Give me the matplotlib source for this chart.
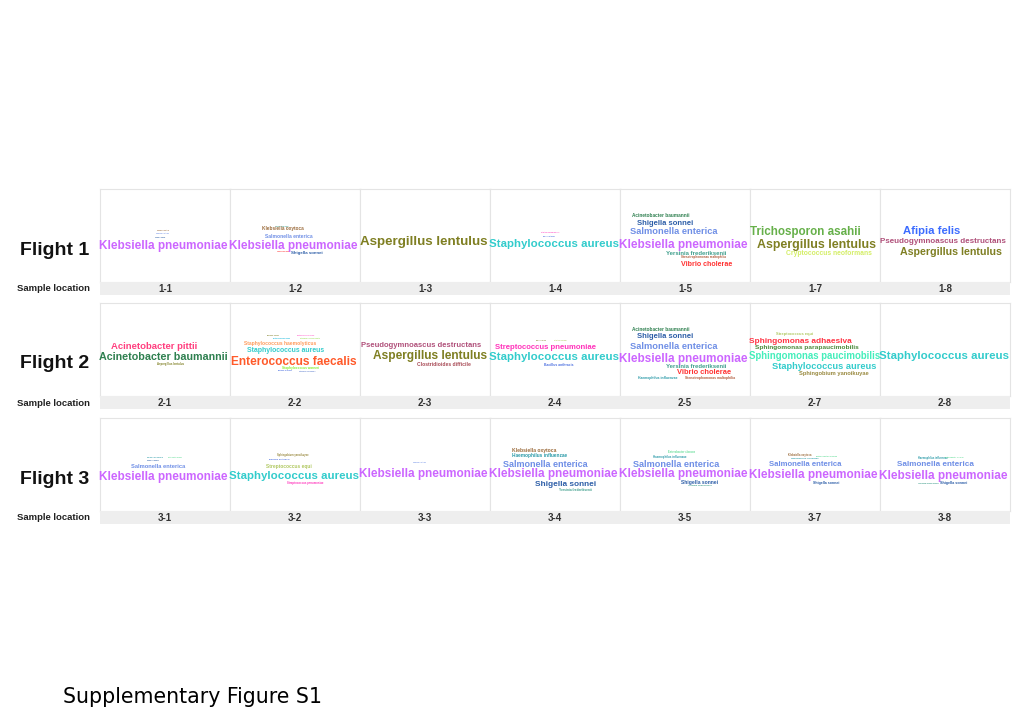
import matplotlib.pyplot as plt

plt.rcParams['font.family'] = ['Liberation Sans', 'DejaVu Sans']

flights = ["Flight 1", "Flight 2", "Flight 3"]
locations = ["1", "2", "3", "4", "5", "7", "8"]

# word clouds: (species, relative abundance -> word size)
f1_1 = [("Klebsiella pneumoniae", 1.0), ("Salmonella enterica", 0.10),
        ("Klebsiella oxytoca", 0.08), ("Shigella sonnei", 0.09)]
f1_2 = [("Klebsiella pneumoniae", 1.0), ("Klebsiella oxytoca", 0.40),
        ("Salmonella enterica", 0.42), ("Shigella sonnei", 0.37),
        ("Vibrio cholerae", 0.14), ("Yersinia frederiksenii", 0.12)]
f1_3 = [("Aspergillus lentulus", 1.13)]
f1_4 = [("Staphylococcus aureus", 0.97), ("Streptococcus pneumoniae", 0.08),
        ("Bacillus anthracis", 0.07)]
f1_5 = [("Acinetobacter baumannii", 0.40), ("Shigella sonnei", 0.65),
        ("Salmonella enterica", 0.79), ("Klebsiella pneumoniae", 1.0),
        ("Yersinia frederiksenii", 0.51), ("Stenotrophomonas maltophilia", 0.25),
        ("Vibrio cholerae", 0.61)]
f1_7 = [("Trichosporon asahii", 0.98), ("Aspergillus lentulus", 1.05),
        ("Cryptococcus neoformans", 0.57)]
f1_8 = [("Afipia felis", 0.95), ("Pseudogymnoascus destructans", 0.68),
        ("Aspergillus lentulus", 0.90)]

f2_1 = [("Acinetobacter pittii", 0.80), ("Acinetobacter baumannii", 0.91),
        ("Aspergillus lentulus", 0.23)]
f2_2 = [("Bacillus cereus", 0.14), ("Enterococcus faecium", 0.14),
        ("Enterococcus hirae", 0.16), ("Staphylococcus capitis", 0.15),
        ("Staphylococcus haemolyticus", 0.43), ("Staphylococcus aureus", 0.58),
        ("Enterococcus faecalis", 1.01), ("Staphylococcus warneri", 0.28),
        ("Bacillus anthracis", 0.14), ("Staphylococcus hominis", 0.12)]
f2_3 = [("Pseudogymnoascus destructans", 0.65), ("Aspergillus lentulus", 1.01),
        ("Clostridioides difficile", 0.42)]
f2_4 = [("Bacillus cereus", 0.10), ("Streptococcus equi", 0.09),
        ("Streptococcus pneumoniae", 0.66), ("Staphylococcus aureus", 0.97),
        ("Bacillus anthracis", 0.29)]
f2_5 = [("Acinetobacter baumannii", 0.40), ("Shigella sonnei", 0.65),
        ("Salmonella enterica", 0.79), ("Klebsiella pneumoniae", 1.0),
        ("Yersinia frederiksenii", 0.51), ("Vibrio cholerae", 0.64),
        ("Haemophilus influenzae", 0.29), ("Stenotrophomonas maltophilia", 0.29)]
f2_7 = [("Streptococcus equi", 0.34), ("Sphingomonas adhaesiva", 0.70),
        ("Sphingomonas parapaucimobilis", 0.55), ("Sphingomonas paucimobilis", 0.82),
        ("Staphylococcus aureus", 0.79), ("Sphingobium yanoikuyae", 0.49)]
f2_8 = [("Staphylococcus aureus", 0.97)]

f3_1 = [("Haemophilus influenzae", 0.12), ("Enterobacter cloacae", 0.10),
        ("Shigella sonnei", 0.14), ("Salmonella enterica", 0.49),
        ("Klebsiella pneumoniae", 1.0)]
f3_2 = [("Sphingobium yanoikuyae", 0.22), ("Bacillus anthracis", 0.20),
        ("Streptococcus equi", 0.41), ("Staphylococcus aureus", 0.97),
        ("Streptococcus pneumoniae", 0.23)]
f3_3 = [("Salmonella enterica", 0.08), ("Klebsiella pneumoniae", 1.0)]
f3_4 = [("Klebsiella oxytoca", 0.42), ("Haemophilus influenzae", 0.40),
        ("Salmonella enterica", 0.76), ("Klebsiella pneumoniae", 1.0),
        ("Shigella sonnei", 0.70), ("Yersinia frederiksenii", 0.28)]
f3_5 = [("Enterobacter cloacae", 0.22), ("Haemophilus influenzae", 0.24),
        ("Salmonella enterica", 0.77), ("Klebsiella pneumoniae", 1.0),
        ("Shigella sonnei", 0.42), ("Yersinia frederiksenii", 0.20)]
f3_7 = [("Klebsiella oxytoca", 0.22), ("Haemophilus influenzae", 0.20),
        ("Enterobacter cloacae", 0.18), ("Salmonella enterica", 0.66),
        ("Klebsiella pneumoniae", 1.0), ("Shigella sonnei", 0.31)]
f3_8 = [("Haemophilus influenzae", 0.22), ("Enterobacter cloacae", 0.16),
        ("Salmonella enterica", 0.69), ("Klebsiella pneumoniae", 1.0),
        ("Yersinia frederiksenii", 0.18), ("Shigella sonnei", 0.32)]

clouds = [[f1_1, f1_2, f1_3, f1_4, f1_5, f1_7, f1_8],
          [f2_1, f2_2, f2_3, f2_4, f2_5, f2_7, f2_8],
          [f3_1, f3_2, f3_3, f3_4, f3_5, f3_7, f3_8]]

# word placement inside each panel (axes fraction), same order as above
p1_1 = [(0.49, 0.39), (0.48, 0.52), (0.485, 0.55), (0.46, 0.48)]
p1_2 = [(0.49, 0.39), (0.41, 0.57), (0.45, 0.49), (0.59, 0.31), (0.41, 0.33), (0.40, 0.60)]
p1_3 = [(0.49, 0.43)]
p1_4 = [(0.49, 0.41), (0.46, 0.53), (0.455, 0.49)]
p1_5 = [(0.31, 0.71), (0.35, 0.63), (0.415, 0.54), (0.485, 0.40), (0.585, 0.31),
        (0.645, 0.27), (0.67, 0.19)]
p1_7 = [(0.425, 0.54), (0.515, 0.40), (0.61, 0.31)]
p1_8 = [(0.40, 0.55), (0.485, 0.44), (0.545, 0.32)]

p2_1 = [(0.415, 0.53), (0.49, 0.415), (0.54, 0.34)]
p2_2 = [(0.33, 0.65), (0.58, 0.65), (0.40, 0.62), (0.615, 0.62), (0.385, 0.56),
        (0.43, 0.49), (0.49, 0.37), (0.54, 0.30), (0.42, 0.27), (0.59, 0.27)]
p2_3 = [(0.47, 0.54), (0.54, 0.425), (0.645, 0.34)]
p2_4 = [(0.39, 0.60), (0.545, 0.60), (0.425, 0.52), (0.49, 0.415), (0.525, 0.33)]
p2_5 = [(0.31, 0.71), (0.35, 0.64), (0.415, 0.53), (0.485, 0.40), (0.585, 0.32),
        (0.645, 0.255), (0.29, 0.19), (0.69, 0.19)]
p2_7 = [(0.345, 0.67), (0.385, 0.585), (0.44, 0.52), (0.50, 0.425), (0.57, 0.32), (0.645, 0.245)]
p2_8 = [(0.49, 0.435)]

p3_1 = [(0.42, 0.58), (0.58, 0.58), (0.41, 0.54), (0.445, 0.48), (0.49, 0.365)]
p3_2 = [(0.48, 0.60), (0.38, 0.56), (0.455, 0.48), (0.49, 0.375), (0.575, 0.30)]
p3_3 = [(0.46, 0.52), (0.49, 0.40)]
p3_4 = [(0.34, 0.655), (0.38, 0.60), (0.425, 0.505), (0.485, 0.40), (0.585, 0.29), (0.655, 0.225)]
p3_5 = [(0.47, 0.63), (0.38, 0.585), (0.43, 0.505), (0.485, 0.40), (0.61, 0.31), (0.615, 0.27)]
p3_7 = [(0.385, 0.60), (0.42, 0.565), (0.585, 0.59), (0.425, 0.495), (0.485, 0.39), (0.585, 0.30)]
p3_8 = [(0.41, 0.57), (0.57, 0.58), (0.43, 0.495), (0.485, 0.375), (0.375, 0.30), (0.57, 0.30)]

places = [[p1_1, p1_2, p1_3, p1_4, p1_5, p1_7, p1_8],
          [p2_1, p2_2, p2_3, p2_4, p2_5, p2_7, p2_8],
          [p3_1, p3_2, p3_3, p3_4, p3_5, p3_7, p3_8]]

colors = {
    "Klebsiella pneumoniae": "#cc66ff",
    "Aspergillus lentulus": "#7f7f22",
    "Staphylococcus aureus": "#33cccc",
    "Salmonella enterica": "#6f8fe6",
    "Shigella sonnei": "#2d5ea8",
    "Klebsiella oxytoca": "#9a6a3a",
    "Vibrio cholerae": "#ff3333",
    "Yersinia frederiksenii": "#3f9e8c",
    "Stenotrophomonas maltophilia": "#b05a3a",
    "Acinetobacter baumannii": "#2f8050",
    "Acinetobacter pittii": "#ff3f7f",
    "Trichosporon asahii": "#66b04a",
    "Cryptococcus neoformans": "#d4ee66",
    "Afipia felis": "#3c6cff",
    "Pseudogymnoascus destructans": "#b0507a",
    "Enterococcus faecalis": "#ff5a2a",
    "Staphylococcus haemolyticus": "#ff9a5a",
    "Staphylococcus warneri": "#88ee33",
    "Clostridioides difficile": "#a84a55",
    "Streptococcus pneumoniae": "#ff33bb",
    "Bacillus anthracis": "#4a6ee0",
    "Haemophilus influenzae": "#2a9aa8",
    "Streptococcus equi": "#b0c860",
    "Sphingomonas adhaesiva": "#ff3344",
    "Sphingomonas parapaucimobilis": "#4a8a3a",
    "Sphingomonas paucimobilis": "#44eebb",
    "Sphingobium yanoikuyae": "#9a8a40",
    "Bacillus cereus": "#8a8a3a",
    "Enterococcus faecium": "#ff66cc",
    "Enterococcus hirae": "#22bbdd",
    "Staphylococcus capitis": "#99dd55",
    "Staphylococcus hominis": "#5a7acc",
    "Enterobacter cloacae": "#66dd99",
}

W, H = 1020, 718
BASE_PT = 8.5  # font size of a word with weight 1.0


def box(x, y, w, h):
    return [x / W, 1 - (y + h) / H, w / W, h / H]


fig = plt.figure(figsize=(W / 100, H / 100), dpi=100)

row_top = [189, 303, 418]
panel_h = 93
band_h = 13
x_left, col_w = 100, 130

for r, top in enumerate(row_top):
    for c in range(len(locations)):
        ax = fig.add_axes(box(x_left + c * col_w, top, col_w, panel_h))
        ax.set_xlim(0, 1)
        ax.set_ylim(0, 1)
        ax.set_xticks([])
        ax.set_yticks([])
        for s in ax.spines.values():
            s.set_color('#e4e4e4')
            s.set_linewidth(0.8)
        for (name, wgt), (px, py) in zip(clouds[r][c], places[r][c]):
            ax.text(px, py, name, fontsize=BASE_PT * wgt, fontweight='bold',
                    color=colors[name], ha='center', va='center', clip_on=False)

    # sample location band
    band = fig.add_axes(box(x_left, top + panel_h, col_w * len(locations), band_h))
    band.set_xlim(0, len(locations))
    band.set_ylim(0, 1)
    band.set_facecolor('#eeeeee')
    band.set_xticks([])
    band.set_yticks([])
    for s in band.spines.values():
        s.set_visible(False)
    for c, loc in enumerate(locations):
        band.text(c + 0.5, 0.45, f"{r + 1}-{loc}", fontsize=7, fontweight='bold',
                  color='#333333', ha='center', va='center')

    fig.text(55 / W, 1 - (top + 61) / H, flights[r], fontsize=14, fontweight='bold',
             ha='center', va='center', color='#111111')
    fig.text(54 / W, 1 - (top + panel_h + 7) / H, "Sample location", fontsize=6.8,
             fontweight='bold', ha='center', va='center', color='#222222')

fig.text(63 / W, 1 - 697 / H, "Supplementary Figure S1", fontsize=14.8,
         family='DejaVu Sans', ha='left', va='center', color='black')

fig.savefig('out.png', dpi=100, facecolor='white')
